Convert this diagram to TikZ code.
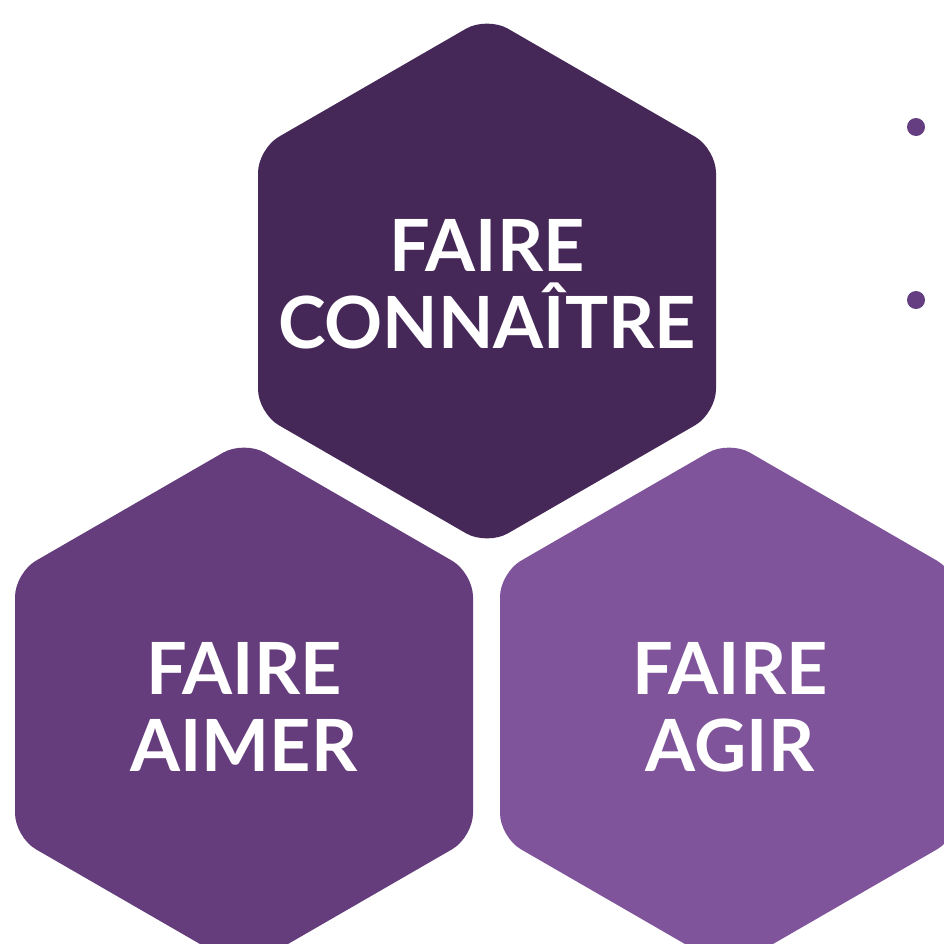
\documentclass[tikz,border=0pt]{standalone}
\usepackage{fontspec}
\setmainfont{Lato}
\definecolor{hexdark}{HTML}{452858}
\definecolor{hexmid}{HTML}{653C7C}
\definecolor{hexlight}{HTML}{80549B}
\definecolor{dotcol}{HTML}{653E82}
\tikzset{
  hexfill/.style={rounded corners=24pt},
  hexlabel/.style={text=white, align=center, inner sep=0pt, outer sep=0pt,
    font=\bfseries\fontsize{72}{77}\selectfont},
  bulletdot/.style={circle, fill=dotcol, inner sep=0pt, minimum size=18pt}
}
\begin{document}
\begin{tikzpicture}[x=1pt, y=-1pt]
\useasboundingbox (0,0) rectangle (944,943);
\clip (0,0) rectangle (944,943);
\coordinate (ctop) at (487,281);
\coordinate (cleft) at (244,705);
\coordinate (cright) at (729,705);
\foreach \c/\col in {ctop/hexdark, cleft/hexmid, cright/hexlight}{
  \fill[hexfill, fill=\col] (\c) ++(0,-264.4) -- ++(229,132.2) -- ++(0,264.4)
    -- ++(-229,132.2) -- ++(-229,-132.2) -- ++(0,-264.4) -- cycle;
}
\node[hexlabel] (ltop) at (487,284) {FAIRE\\CONNAÎTRE};
\node[hexlabel] (lleft) at (244,707) {FAIRE\\AIMER};
\node[hexlabel] (lright) at (730,707) {FAIRE\\AGIR};
\node[bulletdot] (b1) at (916,127) {};
\node[bulletdot] (b2) at (916,300) {};
\end{tikzpicture}
\end{document}
